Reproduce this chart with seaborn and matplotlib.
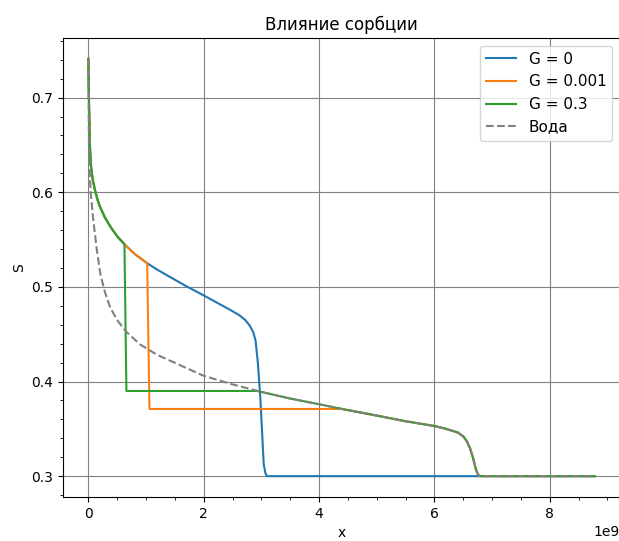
import matplotlib
matplotlib.use("Agg")
import matplotlib.pyplot as plt
import seaborn as sns
import pandas as pd

# x in units of 1e9
x_g0 = [0.0, 0.01, 0.02, 0.03, 0.05, 0.08, 0.12, 0.16, 0.2, 0.29, 0.4, 0.5, 0.626,
        0.8, 1.02, 1.2, 1.43, 1.66, 2.0, 2.24, 2.45, 2.62, 2.72, 2.8, 2.86, 2.9, 2.94,
        2.98, 3.01, 3.04, 3.07, 3.10, 8.78]
s_g0 = [0.741, 0.70, 0.67, 0.645, 0.625, 0.612, 0.601, 0.592, 0.585, 0.573, 0.562, 0.5535, 0.545,
        0.535, 0.525, 0.518, 0.510, 0.502, 0.491, 0.483, 0.476, 0.470, 0.465, 0.459, 0.452, 0.443, 0.419,
        0.384, 0.349, 0.313, 0.303, 0.300, 0.300]

x_g0001 = [0.0, 0.01, 0.02, 0.03, 0.05, 0.08, 0.12, 0.16, 0.2, 0.29, 0.4, 0.5, 0.626,
           0.8, 1.02, 1.06, 4.40, 4.44, 5.0, 5.5, 6.0, 6.2, 6.41, 6.5, 6.56,
           6.62, 6.67, 6.72, 6.76, 6.8, 8.78]
s_g0001 = [0.741, 0.70, 0.67, 0.645, 0.625, 0.612, 0.601, 0.592, 0.585, 0.573, 0.562, 0.5535, 0.545,
           0.535, 0.525, 0.371, 0.371, 0.3705, 0.364, 0.358, 0.353, 0.350, 0.346, 0.342, 0.337,
           0.329, 0.319, 0.307, 0.301, 0.300, 0.300]

x_g03 = [0.0, 0.01, 0.02, 0.03, 0.05, 0.08, 0.12, 0.16, 0.2, 0.29, 0.4, 0.5, 0.626,
         0.66, 2.93, 3.0, 3.5, 4.0, 4.44, 5.0, 5.5, 6.0, 6.2, 6.41, 6.5, 6.56,
         6.62, 6.67, 6.72, 6.76, 6.8, 8.78]
s_g03 = [0.741, 0.70, 0.67, 0.645, 0.625, 0.612, 0.601, 0.592, 0.585, 0.573, 0.562, 0.5535, 0.545,
         0.390, 0.390, 0.389, 0.382, 0.376, 0.3705, 0.364, 0.358, 0.353, 0.350, 0.346, 0.342, 0.337,
         0.329, 0.319, 0.307, 0.301, 0.300, 0.300]

x_water = [0.0, 0.005, 0.01, 0.02, 0.04, 0.08, 0.145, 0.21, 0.29, 0.38, 0.5, 0.65,
           0.9, 1.2, 1.6, 2.0, 2.5, 3.0, 3.5, 4.0, 4.44, 5.0, 5.5, 6.0, 6.2, 6.41,
           6.5, 6.56, 6.62, 6.67, 6.72, 6.76, 6.8, 8.78]
s_water = [0.741, 0.70, 0.66, 0.625, 0.60, 0.574, 0.540, 0.513, 0.494, 0.478, 0.465, 0.453,
           0.439, 0.428, 0.417, 0.406, 0.397, 0.389, 0.382, 0.376, 0.3705, 0.364, 0.358, 0.353, 0.350, 0.346,
           0.342, 0.337, 0.329, 0.319, 0.307, 0.301, 0.300, 0.300]

labels = ["G = 0", "G = 0.001", "G = 0.3", "Вода"]
colors = ["#1f77b4", "#ff7f0e", "#2ca02c", "gray"]
styles = ["-", "-", "-", "--"]
SCALE = 1e9

series = [(x_g0, s_g0), (x_g0001, s_g0001), (x_g03, s_g03), (x_water, s_water)]

fig = plt.figure(figsize=(6.19, 5.41), dpi=100)
ax = fig.add_axes([0.1018, 0.0813, 0.9, 0.8485])

for (xs, ss), lab, col, ls in zip(series, labels, colors, styles):
    df = pd.DataFrame({"x": [v * SCALE for v in xs], "S": ss})
    sns.lineplot(data=df, x="x", y="S", ax=ax, color=col, linestyle=ls,
                 label=lab, sort=False, estimator=None, linewidth=1.5)

ax.set_title("Влияние сорбции")
ax.set_xlabel("x")
ax.set_ylabel("S")
ax.minorticks_on()
ax.grid(True, which="major", color="gray", linewidth=0.8)
ax.legend(loc="upper right", fontsize=11)
ax.spines["right"].set_visible(False)

fig.savefig("out.png", dpi=100)
